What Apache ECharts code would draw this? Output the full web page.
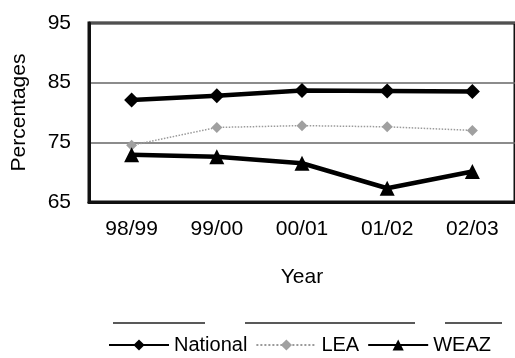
<!DOCTYPE html>
<html>
<head>
<meta charset="utf-8">
<script src="https://cdn.jsdelivr.net/npm/echarts@6/dist/echarts.min.js"></script>
<style>html,body{margin:0;padding:0;background:#fff}#c{width:515px;height:358px}</style>
</head>
<body>
<div id="c"></div>
<script>
const categories = ['98/99', '99/00', '00/01', '01/02', '02/03'];
const national = [82.1, 82.8, 83.7, 83.6, 83.5];
const lea = [74.5, 77.5, 77.8, 77.6, 77.0];
const weaz = [72.9, 72.6, 71.5, 67.3, 70.1];
const yMin = 65, yMax = 95, yStep = 10;

const font = 'Liberation Sans, Arial, sans-serif';
const chart = echarts.init(document.getElementById('c'));
chart.setOption({
  animation: false,
  backgroundColor: '#fff',
  textStyle: { fontFamily: font, color: '#000' },
  grid: { left: 89, top: 23, height: 179, width: 432, show: true, borderColor: '#111', borderWidth: 3, containLabel: false },
  xAxis: {
    type: 'category', data: categories, boundaryGap: true,
    name: 'Year', nameLocation: 'middle', nameGap: 65,
    nameTextStyle: { fontSize: 21, color: '#000', fontFamily: font },
    axisLine: { show: true, lineStyle: { color: '#111', width: 3 } },
    axisTick: { show: false },
    axisLabel: { fontSize: 21, color: '#000', margin: 17, fontFamily: font }
  },
  yAxis: {
    type: 'value', min: yMin, max: yMax, interval: yStep,
    name: 'Percentages', nameLocation: 'middle', nameGap: 59, nameRotate: 90,
    nameTextStyle: { fontSize: 21, color: '#000', fontFamily: font },
    axisLine: { show: true, lineStyle: { color: '#111', width: 3 } },
    axisTick: { show: false },
    axisLabel: { fontSize: 21, color: '#000', margin: 18, fontFamily: font },
    splitLine: { show: true, lineStyle: { color: '#666', width: 1.5 } }
  },
  legend: {
    left: 103, top: 330, itemWidth: 60, itemHeight: 14, itemGap: 8,
    textStyle: { fontSize: 20, color: '#000', fontFamily: font },
    data: ['National', 'LEA', 'WEAZ']
  },
  graphic: [
    { type: 'line', shape: { x1: 113, y1: 323, x2: 205, y2: 323 }, style: { stroke: '#222', lineWidth: 1.5 } },
    { type: 'line', shape: { x1: 245, y1: 323, x2: 415, y2: 323 }, style: { stroke: '#222', lineWidth: 1.5 } },
    { type: 'line', shape: { x1: 445, y1: 323, x2: 502, y2: 323 }, style: { stroke: '#222', lineWidth: 1.5 } }
  ],
  series: [
    { name: 'National', type: 'line', data: national, symbol: 'diamond', symbolSize: 15,
      lineStyle: { color: '#000', width: 4.5 }, itemStyle: { color: '#000' } },
    { name: 'LEA', type: 'line', data: lea, symbol: 'diamond', symbolSize: 11,
      lineStyle: { color: '#9a9a9a', width: 1.5, type: 'dotted' }, itemStyle: { color: '#a0a0a0' } },
    { name: 'WEAZ', type: 'line', data: weaz, symbol: 'triangle', symbolSize: 15,
      lineStyle: { color: '#000', width: 4.5 }, itemStyle: { color: '#000' } }
  ]
});
</script>
</body>
</html>
